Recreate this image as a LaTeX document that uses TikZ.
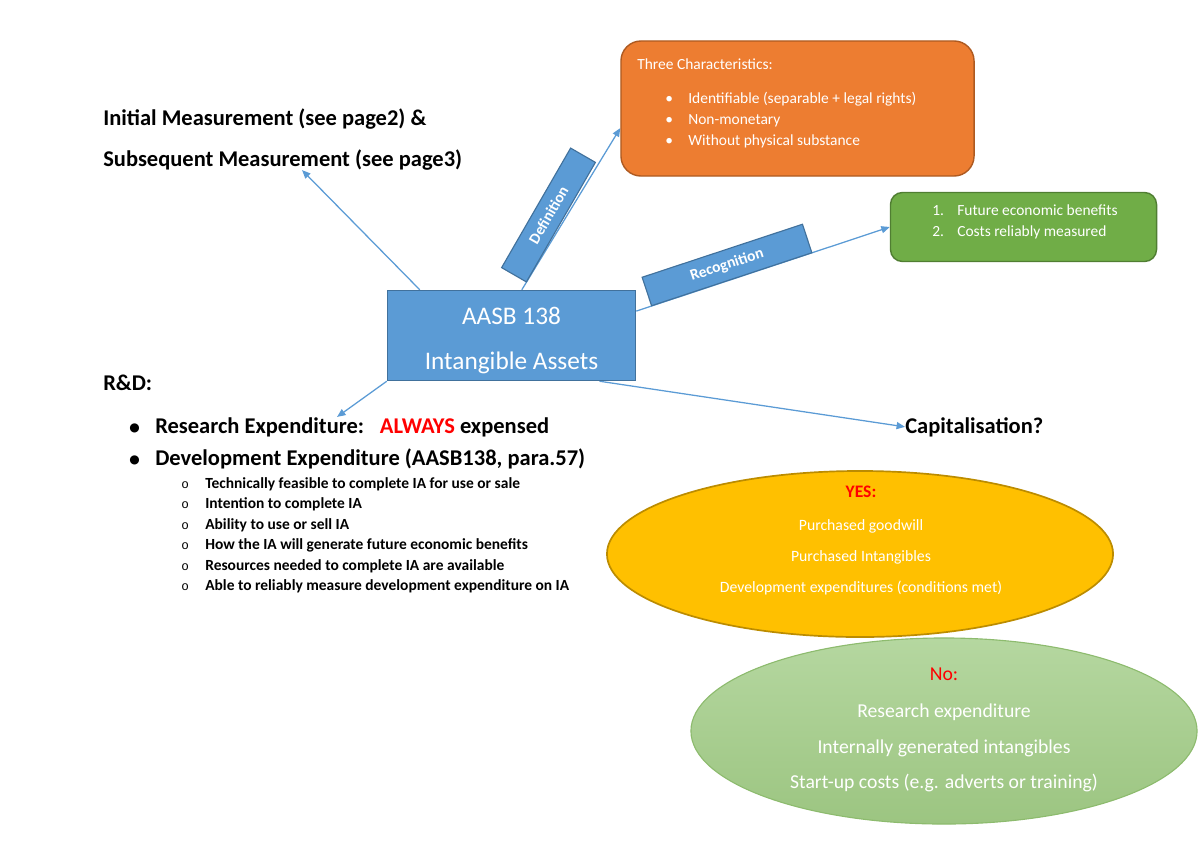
\documentclass[tikz,border=0pt]{standalone}
\usepackage{fontspec}
\setmainfont{Carlito}
\newfontfamily\dotfont{DejaVu Sans}
\newfontfamily\ringfont{Liberation Mono}
\usepackage{tikz}
\usetikzlibrary{arrows.meta,shapes.geometric}
\pgfdeclarelayer{background}
\pgfsetlayers{background,main}
\definecolor{boxblue}{HTML}{5B9BD5}
\definecolor{boxblueline}{HTML}{41719C}
\definecolor{charorange}{HTML}{ED7D31}
\definecolor{charorangeline}{HTML}{AE5A21}
\definecolor{recgreen}{HTML}{70AD47}
\definecolor{recgreenline}{HTML}{507E32}
\definecolor{yesyellow}{HTML}{FFC000}
\definecolor{yesyellowline}{HTML}{BC8C00}
\definecolor{nogreentop}{HTML}{B5D7A0}
\definecolor{nogreenbot}{HTML}{9CC581}
\definecolor{nogreenline}{HTML}{8DBB6E}
\definecolor{alwaysred}{HTML}{FF0000}
\tikzstyle{main box}=[rectangle, draw=boxblueline, fill=boxblue
,line width=1pt
,minimum width=6.2cm, minimum height=2.25cm
,inner sep=0pt, text=white, align=center
,font=\fontsize{18}{32}\selectfont
]
\tikzstyle{tag box}=[rectangle, draw=boxblueline, fill=boxblue, line width=0.8pt
,inner sep=0pt, text=white, font=\bfseries\fontsize{11}{13}\selectfont]
\tikzstyle{char box}=[rectangle, rounded corners=0.5cm, draw=charorangeline, fill=charorange
,line width=1pt, minimum width=8.825cm, minimum height=3.375cm]
\tikzstyle{rec box}=[rectangle, rounded corners=0.3cm, draw=recgreenline, fill=recgreen
,line width=1pt, minimum width=6.65cm, minimum height=1.725cm]
\tikzstyle{yes oval}=[ellipse, draw=yesyellowline, fill=yesyellow, line width=1.2pt
,minimum width=12.65cm, minimum height=4.15cm, inner sep=0pt]
\tikzstyle{no oval}=[ellipse, draw=nogreenline, top color=nogreentop, bottom color=nogreenbot
,line width=0.8pt, minimum width=12.65cm, minimum height=4.65cm, inner sep=0pt]
\tikzstyle{link} = [draw=boxblue, line width=0.9pt, -{Triangle[length=6pt,width=5pt]}]
\tikzstyle{plain text}=[anchor=base west, inner sep=0pt]
\tikzstyle{heading}=[plain text, font=\bfseries\fontsize{16}{19}\selectfont]
\tikzstyle{sub item}=[plain text, font=\bfseries\fontsize{11}{13}\selectfont]
\tikzstyle{box text}=[plain text, text=white, font=\fontsize{11}{13}\selectfont]
\tikzstyle{oval text}=[anchor=base, inner sep=0pt, text=white]

\begin{document}
\begin{tikzpicture}[x=0.025cm, y=-0.025cm]
    \useasboundingbox (0,0) rectangle (1200,849);
    % The central standard and the boxes round it
    \node[main box] (aasb) at (511.5,335.5) {\rule{0pt}{20pt}AASB 138\\Intangible Assets};
    \node[char box] (chars) at (797.5,108.5) {};
    \node[rec box] (recog) at (1023.5,227) {};

    % Text of the characteristics box
    \node[box text] (charhead) at (637,69) {Three Characteristics:};
    \foreach \ypos/\txt in {103/Identifiable (separable + legal rights), 124/Non-monetary, 145/Without physical substance}
    {
        \node[box text] (chardot\ypos) at (665,\ypos) {•};
        \node[box text] (char\ypos) at (688,\ypos) {\txt};
    }

    % Text of the recognition box
    \foreach \ypos/\num/\txt in {215/1./Future economic benefits, 236/2./Costs reliably measured}
    {
        \node[box text] (recnum\ypos) at (932,\ypos) {\num};
        \node[box text] (rec\ypos) at (957,\ypos) {\txt};
    }

    % Measurement heading
    \node[heading] (initial) at (103,125) {Initial Measurement (see page2) \&};
    \node[heading] (subseq) at (103,166) {Subsequent Measurement (see page3)};

    % R&D list
    \node[heading] (rnd) at (103,390) {R\&D:};
    \node[plain text, font=\dotfont\fontsize{8.5}{10}\selectfont] (dot1) at (129,431) {●};
    \node[heading] (research) at (155,433) {Research Expenditure:\hspace{0.7em}\textcolor{alwaysred}{ALWAYS} expensed};
    \node[plain text, font=\dotfont\fontsize{8.5}{10}\selectfont] (dot2) at (129,463) {●};
    \node[heading] (develop) at (155,465) {Development Expenditure (AASB138, para.57)};
    \foreach \ypos/\txt in {488/Technically feasible to complete IA for use or sale, 508/Intention to complete IA, 529/Ability to use or sell IA, 549/How the IA will generate future economic benefits, 570/Resources needed to complete IA are available, 590/Able to reliably measure development expenditure on IA}
    {
        \node[plain text, font=\ringfont\fontsize{9}{11}\selectfont] (ring\ypos) at (181,\ypos) {o};
        \node[sub item] (cond\ypos) at (205,\ypos) {\txt};
    }

    % Capitalisation and the two answers
    \node[heading] (capital) at (905,433) {Capitalisation?};
    \node[yes oval] (yes) at (860,554) {};
    \node[oval text, font=\bfseries\fontsize{12.5}{14}\selectfont, text=alwaysred] (yeshead) at (861,497) {YES:};
    \foreach \ypos/\txt in {530/Purchased goodwill, 561/Purchased Intangibles, 592/Development expenditures (conditions met)}
        \node[oval text, font=\fontsize{11.2}{13}\selectfont] (yes\ypos) at (861,\ypos) {\txt};
    \node[no oval] (no) at (944,731) {};
    \node[oval text, font=\fontsize{14}{16}\selectfont, text=alwaysred] (nohead) at (944,680) {No:};
    \foreach \ypos/\txt in {717/Research expenditure, 753/Internally generated intangibles, 788/Start-up costs (e.g. adverts or training)}
        \node[oval text, font=\fontsize{14}{16}\selectfont] (no\ypos) at (944,\ypos) {\txt};

    % Connect the standard with its parts
    \begin{pgfonlayer}{background}
    \path[link] ([xshift=0.825cm]aasb.north west) -- ([xshift=4.975cm]subseq.south west);
    \path[link] ([xshift=3.375cm]aasb.north west) -- ([yshift=-0.49cm]chars.west);
    \path[link] ([yshift=0.61cm]aasb.east) -- (recog.west);
    \path[link] (aasb.south west) -- ([xshift=4.55cm]research.north west);
    \path[link] ([xshift=2.2cm]aasb.south) -- (capital.west);
    \end{pgfonlayer}

    % Labels on the connectors
    \node[tag box, rotate=60, minimum width=3.45cm, minimum height=0.715cm] (defn) at (548.5,215) {Definition};
    \node[tag box, rotate=18.3, minimum width=4.22cm, minimum height=0.75cm] (recn) at (727,265) {Recognition};
\end{tikzpicture}
\end{document}
